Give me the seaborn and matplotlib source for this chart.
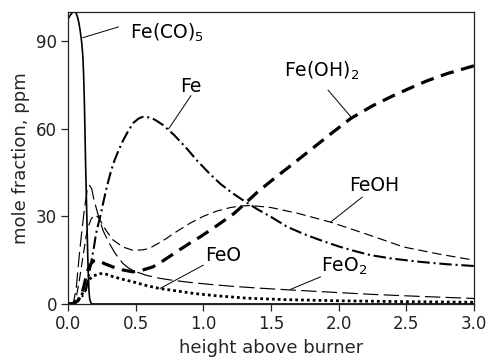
import numpy as np
import pandas as pd
import seaborn as sns
import matplotlib.pyplot as plt

# Species mole-fraction profiles (ppm) versus height above burner
x_feco5 = [0, 0.01, 0.02, 0.03, 0.04, 0.05, 0.06, 0.07, 0.08, 0.09, 0.10, 0.105, 0.11,
           0.115, 0.12, 0.125, 0.13, 0.135, 0.14, 0.145, 0.15, 0.155, 0.16, 0.17, 0.18, 3.0]
y_feco5 = [97.4, 98.3, 99.0, 99.6, 100, 100, 99.5, 98.2, 96.3, 93.5, 90, 87.5, 84.5,
           79, 71, 60, 48, 38, 28, 18, 10, 4.5, 1.8, 0.3, 0, 0]

x_fe = [0, 0.04, 0.08, 0.1, 0.12, 0.133, 0.15, 0.17, 0.19, 0.207, 0.225, 0.244, 0.262,
        0.281, 0.3, 0.319, 0.345, 0.373, 0.41, 0.45, 0.484, 0.52, 0.55, 0.59, 0.64, 0.7,
        0.78, 0.87, 0.953, 1.04, 1.126, 1.21, 1.3, 1.4, 1.5, 1.62, 1.75, 1.867, 2.0, 2.12,
        2.237, 2.4, 2.607, 2.8, 3.0]
y_fe = [0, 0.2, 1.2, 2.2, 3.6, 4.8, 8.5, 14, 19, 24, 27.5, 31, 35, 38.9, 42.4, 45.7,
        49.3, 52.5, 56.2, 59.6, 62, 63.4, 64, 63.9, 63.1, 61.3, 58, 53.6, 49.1, 44.9,
        41.1, 38.1, 35.3, 32.4, 29.8, 26.4, 23.8, 21.8, 19.7, 18.1, 16.7, 15.5, 14.4,
        13.6, 13.0]

x_feoh2 = [0, 0.04, 0.07, 0.1, 0.12, 0.133, 0.15, 0.17, 0.19, 0.207, 0.23, 0.27, 0.33,
           0.4, 0.479, 0.55, 0.627, 0.7, 0.8, 0.9, 0.978, 1.1, 1.225, 1.3, 1.4, 1.52,
           1.65, 1.8, 1.95, 2.09, 2.25, 2.4, 2.51, 2.65, 2.8, 3.0]
y_feoh2 = [0, 0.2, 1, 3, 6.5, 9.3, 12, 13.8, 14.8, 15, 14.7, 13.8, 12.7, 11.7, 11,
           11.6, 12.7, 14.7, 17.8, 20.8, 23, 26.8, 30.9, 34.0, 38.3, 42.8, 47.5, 53,
           58.5, 63.5, 67.8, 71.2, 73.5, 76.3, 78.8, 81.5]

x_feoh = [0, 0.04, 0.06, 0.084, 0.1, 0.12, 0.133, 0.15, 0.17, 0.19, 0.207, 0.23, 0.26,
          0.281, 0.33, 0.405, 0.479, 0.55, 0.6, 0.7, 0.8, 0.9, 1.0, 1.1, 1.2, 1.27,
          1.35, 1.5, 1.7, 1.94, 2.2, 2.48, 2.75, 3.0]
y_feoh = [0, 0.3, 2, 8.2, 13, 19, 23, 26.5, 29, 30.2, 30.3, 29.3, 26.8, 25.2, 22,
          19.5, 18.4, 18.5, 19, 21.6, 24.7, 27.6, 30, 31.8, 33, 33.5, 33.7, 33, 31,
          28, 24, 19.5, 17, 15]

x_feo2 = [0, 0.04, 0.06, 0.084, 0.1, 0.12, 0.14, 0.158, 0.175, 0.19, 0.22, 0.26, 0.306,
          0.35, 0.405, 0.45, 0.504, 0.58, 0.676, 0.775, 0.9, 1.05, 1.2, 1.42, 1.644,
          2.0, 2.24, 2.6, 3.0]
y_feo2 = [0, 0.5, 5, 17, 24, 32, 38.5, 40.6, 39.5, 36, 30.9, 25, 20.7, 17.2, 13.9,
          12.2, 11, 9.8, 8.8, 8.1, 7.4, 6.7, 6.1, 5.4, 4.8, 3.9, 3.3, 2.6, 1.9]

x_feo = [0, 0.04, 0.07, 0.1, 0.133, 0.16, 0.19, 0.207, 0.24, 0.281, 0.33, 0.4, 0.479,
         0.58, 0.676, 0.8, 0.93, 1.1, 1.32, 1.6, 2.0, 2.5, 3.0]
y_feo = [0, 0.2, 1, 3, 6, 8.5, 9.7, 9.9, 10.4, 10.2, 9.4, 8.5, 7.6, 6.3, 5.3, 4.5,
         3.6, 2.8, 2.0, 1.5, 1.1, 0.8, 0.6]

x_ticks = [0.0, 0.5, 1.0, 1.5, 2.0, 2.5, 3.0]
y_ticks = [0, 30, 60, 90]

sns.set_theme(style="ticks")
plt.rcParams['font.family'] = ['DejaVu Sans']
plt.rcParams['mathtext.default'] = 'regular'

fig = plt.figure(figsize=(4.86, 3.61), dpi=100)
ax = fig.add_axes([68 / 486, 57 / 361, (474 - 68) / 486, (304 - 11.7) / 361])

ink = "black"
sns.lineplot(x=x_feco5, y=y_feco5, ax=ax, color=ink, lw=1.2, linestyle="-")
sns.lineplot(x=x_fe, y=y_fe, ax=ax, color=ink, lw=1.5,
             linestyle=(0, (6, 1.8, 1, 1.8)))
sns.lineplot(x=x_feoh2, y=y_feoh2, ax=ax, color=ink, lw=2.3,
             linestyle=(0, (4.2, 2.4)))
sns.lineplot(x=x_feoh, y=y_feoh, ax=ax, color=ink, lw=0.85,
             linestyle=(0, (8, 4)))
sns.lineplot(x=x_feo2, y=y_feo2, ax=ax, color=ink, lw=0.85,
             linestyle=(0, (13, 4.5)))
sns.lineplot(x=x_feo, y=y_feo, ax=ax, color=ink, lw=2.0,
             linestyle=(0, (1, 1.1)))

ax.set_xlim(0, 3.0)
ax.set_ylim(0, 100)
ax.set_xticks(x_ticks)
ax.set_xticklabels([f"{t:.1f}" for t in x_ticks])
ax.set_yticks(y_ticks)
ax.tick_params(direction="out", length=5, width=0.9, colors="#222222",
               labelsize=12, pad=3, top=False, right=False)
for s in ax.spines.values():
    s.set_visible(True)
    s.set_linewidth(0.9)
    s.set_color("#222222")

ax.set_xlabel("height above burner", fontsize=13, labelpad=4)
ax.set_ylabel("mole fraction, ppm", fontsize=13, labelpad=4)

# Species labels with leader lines
lab_fs = 13.5
leader = dict(arrowstyle="-", lw=0.7, color=ink, shrinkA=0, shrinkB=0)
labels = [
    ("Fe(CO)$_5$", (0.46, 92.6), "left", (0.373, 94.8), (0.109, 91.1)),
    ("Fe", (0.904, 74.3), "center", (0.909, 71.3), (0.743, 59.9)),
    ("Fe(OH)$_2$", (1.593, 79.8), "left", (1.921, 73.2), (2.089, 64.1)),
    ("FeOH", (2.26, 40.6), "center", (2.175, 36.6), (1.94, 28.0)),
    ("FeO$_2$", (1.867, 12.8), "left", (1.867, 9.3), (1.644, 5.0)),
    ("FeO", (1.148, 16.7), "center", (1.0, 13.3), (0.68, 5.3)),
]
for txt, pos, ha, p0, p1 in labels:
    ax.text(pos[0], pos[1], txt, ha=ha, va="center", fontsize=lab_fs, color=ink)
    ax.annotate("", xy=p1, xytext=p0, arrowprops=leader)

fig.savefig("out.png", dpi=100)
